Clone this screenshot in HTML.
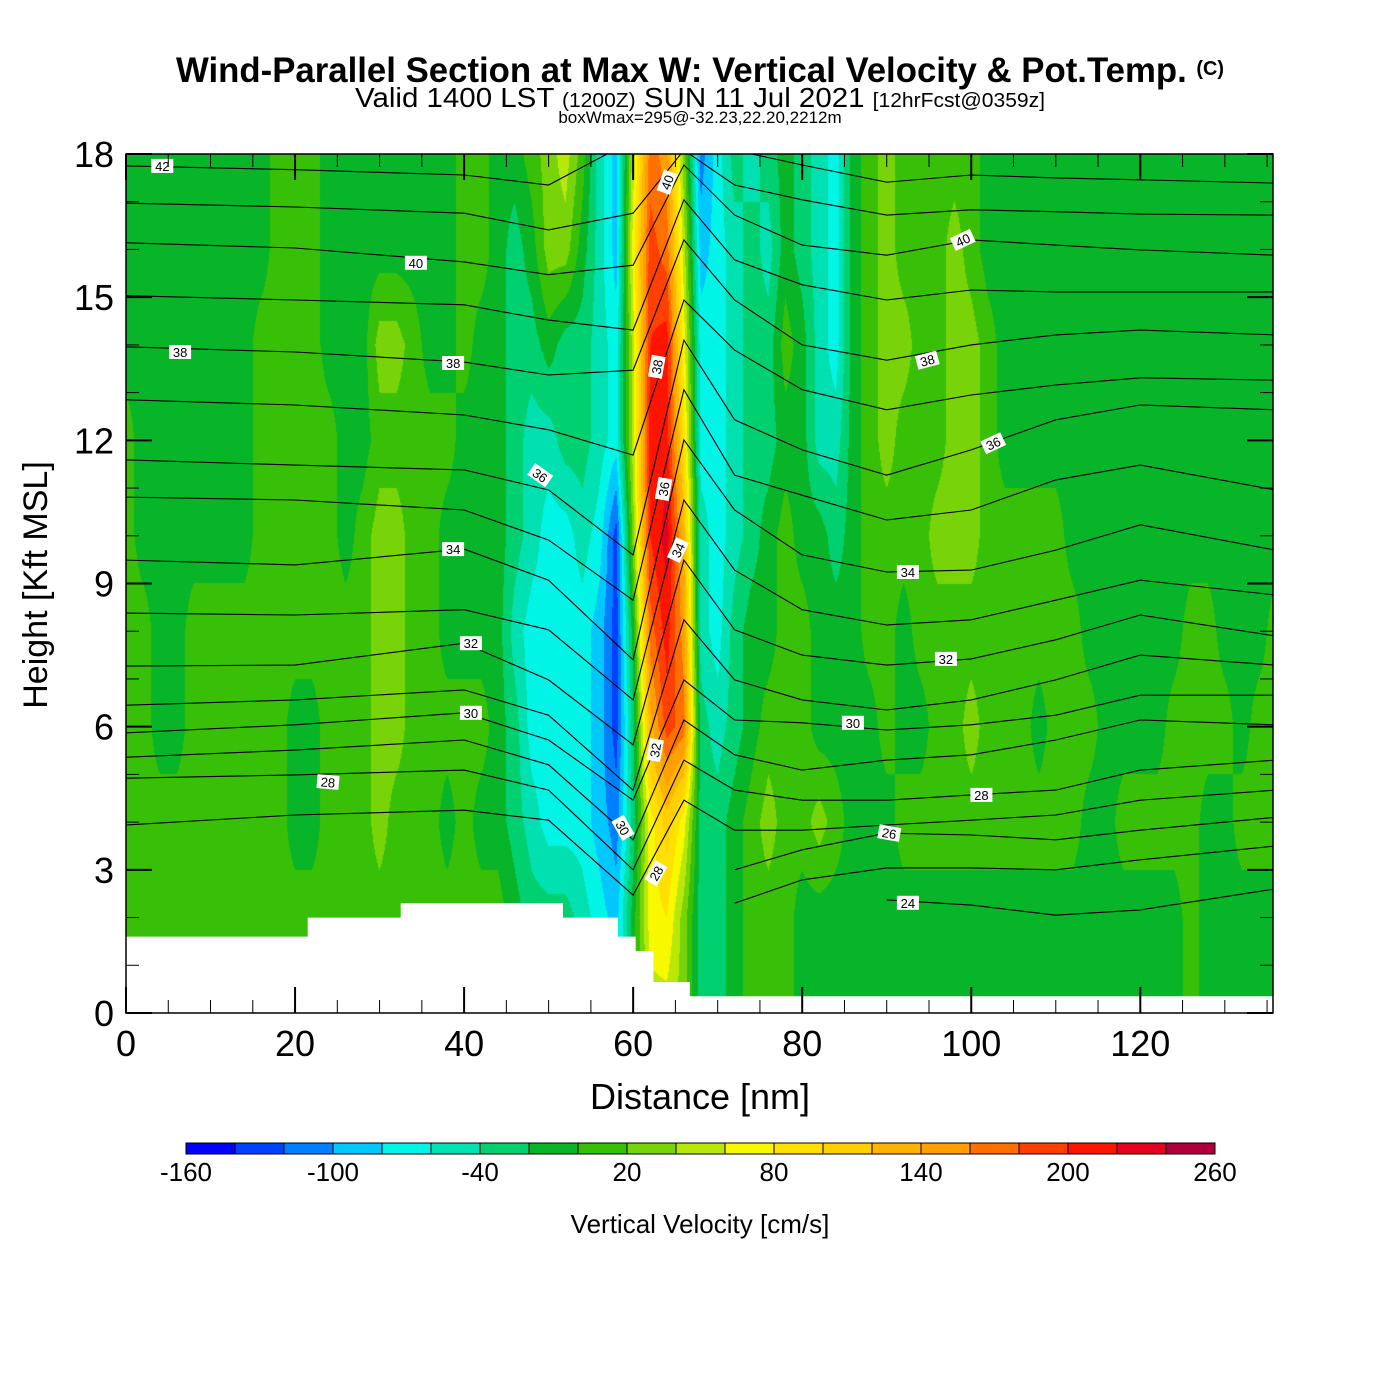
<!DOCTYPE html>
<html><head><meta charset="utf-8">
<style>
body{margin:0;background:#fff;}
#wrap{position:relative;width:1400px;height:1400px;background:#fff;overflow:hidden;font-family:"Liberation Sans",sans-serif;}
canvas{position:absolute;left:126px;top:154px;}
svg{position:absolute;left:0;top:0;}
</style></head>
<body>
<div id="wrap">
<canvas id="field" width="1147" height="859"></canvas>
<svg id="svg" width="1400" height="1400">
<text x="700" y="82" text-anchor="middle" font-size="35" font-weight="bold" textLength="1048" lengthAdjust="spacingAndGlyphs">Wind-Parallel Section at Max W: Vertical Velocity &amp; Pot.Temp. <tspan font-size="20" dy="-7">(C)</tspan></text>
<text x="700" y="107" text-anchor="middle" font-size="28" textLength="690" lengthAdjust="spacingAndGlyphs">Valid 1400 LST <tspan font-size="20">(1200Z)</tspan> SUN 11 Jul 2021 <tspan font-size="20">[12hrFcst@0359z]</tspan></text>
<text x="700" y="123" text-anchor="middle" font-size="17">boxWmax=295@-32.23,22.20,2212m</text>
<text x="700" y="1109" text-anchor="middle" font-size="36">Distance [nm]</text>
<text transform="translate(47,585) rotate(-90)" text-anchor="middle" font-size="34">Height [Kft MSL]</text>
<text x="700" y="1233" text-anchor="middle" font-size="26">Vertical Velocity [cm/s]</text>
<g id="lines"></g><g id="terrain"></g><g id="clabels"></g><g id="axes"></g><g id="cbar"></g>
</svg>
</div>
<script>
const xMin=0,xMax=135.7,yMin=0,yMax=18;
const PX0=126,PX1=1273,PY0=1013,PY1=154;
function sx(v){return PX0+(v-xMin)/(xMax-xMin)*(PX1-PX0);}
function sy(v){return PY0-(v-yMin)/(yMax-yMin)*(PY0-PY1);}

const levelBounds=[-160,-140,-120,-100,-80,-60,-40,-20,0,20,40,60,80,100,120,140,160,180,200,220,240,260];
const levelColors=["#0000ff","#0040ff","#0080ff","#00c8ff","#00f5e6","#00e0b0","#00d070","#08b428","#38c008","#78d408","#b8e808","#f8f800","#ffe000","#ffd000","#ffb400","#ffa000","#ff7000","#ff4000","#ff1400","#e60020","#b0003c"];
const cbarLabels=[-160,-100,-40,20,80,140,200,260];

const gridX=[0,2,4,6,8,10,12,14,16,18,20,22,24,26,28,30,32,34,36,38,40,42,44,46,48,50,52,54,56,58,60,62,64,66,68,70,72,74,76,78,80,82,84,86,88,90,92,94,96,98,100,102,104,106,108,110,112,114,116,118,120,122,124,126,128,130,132,134,136];
const gridH=[0,2,4,6,8,10,12,14,16,18];
const w0=[10,10,10,10,10,10,10,10,10,10,10,10,10,10,10,10,10,10,10,10,10,10,10,-10,-30,-30,-30,-50,-70,-90,-10,50,50,30,-30,-30,-10,10,10,10,-10,-10,-10,-10,-10,-10,-10,-10,-10,-10,-10,-10,-10,-10,-10,-10,-10,-10,-10,-10,-10,-10,-10,10,-10,-10,-10,-10,-10];
const w2=[10,10,10,10,10,10,10,10,10,10,10,10,10,10,10,10,10,10,10,10,10,10,10,-10,-30,-30,-30,-50,-70,-90,-10,70,80,30,-30,-30,-10,10,10,10,-10,-10,-10,-10,-10,-10,-10,-10,-10,-10,-10,-10,-10,-10,-10,-10,-10,-10,-10,-10,-10,-10,-10,10,-10,-10,-10,-10,-10];
const w4=[10,10,10,10,10,10,10,10,10,10,-10,-10,10,10,10,30,10,10,10,-10,10,-10,-10,-30,-50,-70,-70,-70,-90,-110,-30,70,110,70,-30,-30,-10,10,30,10,10,30,10,-10,-10,-10,10,10,10,10,10,10,10,10,10,10,10,-10,-10,10,10,10,10,10,-10,-10,10,10,10];
const w6=[10,10,-10,-10,10,10,10,10,10,10,-10,-10,10,10,10,30,30,10,10,10,10,10,-10,-30,-70,-70,-70,-70,-90,-130,-30,130,190,170,-30,-50,-30,-10,10,10,10,-10,-10,-10,-10,10,-10,-10,10,10,30,10,10,10,-10,10,10,10,-10,-10,-10,-10,10,10,10,10,-10,10,10];
const w8=[10,10,-10,-10,10,10,10,10,10,10,10,10,10,10,10,30,30,10,10,-10,-10,-10,-10,-50,-70,-70,-70,-70,-90,-130,-10,170,210,150,-50,-70,-30,-10,-10,10,10,-10,-10,-10,10,10,-10,10,10,10,10,10,10,10,10,10,10,-10,-10,-10,-10,-10,-10,10,10,-10,-10,-10,10];
const w10=[10,-10,-10,-10,-10,-10,-10,-10,10,10,10,10,10,-10,10,30,30,10,10,-10,-10,-10,-10,-30,-50,-70,-70,-50,-70,-130,30,200,230,130,-50,-70,-50,-30,-10,10,-10,-10,-30,-10,10,10,10,10,30,30,30,10,10,10,10,10,-10,-10,-10,-10,-10,-10,-10,-10,-10,-10,-10,-10,-10];
const w12=[10,-10,-10,-10,-10,-10,-10,-10,10,10,10,10,10,-10,-10,10,10,10,10,10,-10,-10,-10,-30,-50,-50,-30,-30,-50,-70,50,210,210,90,-70,-70,-50,-30,-30,-10,-10,-50,-50,-10,10,30,10,10,10,30,30,10,-10,-10,-10,-10,-10,-10,-10,-10,-10,-10,-10,-10,-10,-10,-10,-10,-10];
const w14=[-10,-10,-10,-10,-10,-10,-10,-10,10,10,10,10,-10,-10,-10,30,30,10,-10,-10,10,-10,-10,-30,-30,-10,-30,-30,-50,-70,50,200,210,70,-70,-70,-50,-30,-30,10,-10,-50,-70,-10,10,30,30,10,10,30,30,10,-10,-10,-10,-10,-10,-10,-10,-10,-10,-10,-10,-10,-10,-10,-10,-10,-10];
const w16=[-10,-10,-10,-10,-10,-10,-10,-10,-10,10,10,10,-10,-10,-10,-10,-10,-10,-10,-10,10,10,-10,-30,-10,30,30,-10,-50,-90,70,190,170,50,-90,-70,-50,-30,-50,-10,-30,-50,-70,-10,10,30,10,10,10,30,10,-10,-10,-10,-10,-10,-10,-10,-10,-10,-10,-10,-10,-10,-10,-10,-10,-10,-10];
const w18=[-10,-10,-10,-10,-10,-10,-10,-10,-10,10,10,10,-10,-10,-10,-10,-10,-10,-10,-10,10,10,-10,-10,10,30,50,10,-50,-90,50,170,150,30,-110,-70,-30,-50,-30,-10,-30,-50,-70,-10,10,30,10,10,10,10,10,-10,-10,-10,-10,-10,-10,-10,-10,-10,-10,-10,-10,-10,-10,-10,-10,-10,-10];
const wRows=[w0,w2,w4,w6,w8,w10,w12,w14,w16,w18];

const terrainX=[0,21.5,32.5,51.7,58.2,60.3,62.4,66.7,135.7];
const terrainH=[1.6,2.0,2.3,2.0,1.6,1.3,0.65,0.35];

const thetaX=[0,20,40,50,60,66,72,80,90,100,110,120,136];
const thetaLevels=[42,41,40,39,38,37,36,35,34,33,32,31,30,29,28,27,26,25,24];
const th42=[17.75,17.67,17.56,17.35,18.29,18.5,18.08,17.77,17.41,17.56,17.5,17.46,17.39];
const th41=[16.97,16.89,16.76,16.41,16.76,18.08,17.35,17.04,16.72,16.83,16.79,16.74,16.72];
const th40=[16.14,16.03,15.74,15.47,15.67,17.77,16.72,16.09,15.88,16.2,16.09,15.99,15.88];
const th39=[15.03,14.94,14.84,14.52,14.31,17.04,15.78,15.26,14.94,15.15,15.11,15.11,15.11];
const th38=[13.96,13.85,13.64,13.37,13.47,16.2,14.94,14.0,13.68,14.0,14.21,14.31,14.21];
const th37=[12.85,12.74,12.53,12.22,11.69,14.94,13.89,13.06,12.64,12.95,13.16,13.31,13.26];
const th36=[11.59,11.48,11.38,10.96,9.6,14.1,12.43,11.8,11.27,11.8,12.43,12.74,12.64];
const th35=[10.81,10.75,10.54,9.91,8.65,13.06,11.27,10.85,10.33,10.54,11.17,11.48,10.96];
const th34=[9.49,9.39,9.72,9.07,7.4,12.01,10.54,9.6,9.24,9.28,9.7,10.23,9.7];
const th33=[8.38,8.34,8.45,8.03,6.56,10.75,9.28,8.45,8.13,8.24,8.65,9.07,8.76];
const th32=[7.27,7.29,7.75,6.98,5.62,9.49,8.03,7.5,7.29,7.42,7.82,8.34,7.9];
const th31=[6.45,6.56,6.77,6.24,4.67,8.24,6.98,6.56,6.35,6.56,6.98,7.5,7.29];
const th30=[5.87,6.04,6.29,5.72,4.46,6.98,6.14,6.08,5.93,6.04,6.24,6.66,6.66];
const th29=[5.36,5.51,5.72,5.2,3.63,6.14,5.41,5.09,5.3,5.41,5.72,6.14,6.04];
const th28=[4.92,4.99,5.09,4.67,3.0,5.3,4.67,4.46,4.46,4.57,4.67,5.09,5.3];
const th27=[3.94,4.15,4.25,4.04,2.47,4.46,3.83,3.83,3.94,4.04,4.15,4.46,4.67];
const th26=[null,null,null,null,null,null,3.0,3.42,3.77,3.73,3.63,3.83,4.1];
const th25=[null,null,null,null,null,null,2.3,2.79,3.04,3.04,3.0,3.21,3.5];
const th24=[null,null,null,null,null,null,null,null,2.37,2.26,2.05,2.16,2.6];
const thetaRows=[th42,th41,th40,th39,th38,th37,th36,th35,th34,th33,th32,th31,th30,th29,th28,th27,th26,th25,th24];

const labelText=["42","40","38","38","36","38","40","36","34","34","32","30","28","32","30","28","40","38","36","34","32","30","28","26","24"];
const labelX=[4.3,34.3,6.4,38.7,49,62.8,64,63.6,65.3,38.7,40.8,40.8,23.9,62.6,58.8,62.7,99,94.8,102.6,92.5,97,86,101.2,90.3,92.5];
const labelH=[17.75,15.72,13.85,13.62,11.27,13.54,17.41,10.98,9.7,9.72,7.75,6.29,4.84,5.51,3.88,2.93,16.2,13.68,11.94,9.24,7.42,6.08,4.57,3.77,2.31];
const labelAng=[0,0,0,0,35,-80,-70,-80,-65,0,0,0,5,-80,60,-60,-25,-15,-25,0,0,0,0,10,0];

const NS="http://www.w3.org/2000/svg";
function mk(tag,attrs,parent){const e=document.createElementNS(NS,tag);for(const k in attrs)e.setAttribute(k,attrs[k]);parent.appendChild(e);return e;}

(function(){
  const cv=document.getElementById('field');const ctx=cv.getContext('2d');
  const W=cv.width,H=cv.height;const img=ctx.createImageData(W,H);
  const rgb=levelColors.map(c=>[parseInt(c.substr(1,2),16),parseInt(c.substr(3,2),16),parseInt(c.substr(5,2),16)]);
  const nx=gridX.length,nh=gridH.length;
  for(let py=0;py<H;py++){
    const h=yMax-(py+0.5)/H*(yMax-yMin);
    let j=Math.min(nh-2,Math.max(0,Math.floor(h/2)));let fy=(h-gridH[j])/(gridH[j+1]-gridH[j]);
    for(let px=0;px<W;px++){
      const x=xMin+(px+0.5)/W*(xMax-xMin);
      let i=Math.min(nx-2,Math.max(0,Math.floor(x/2)));let fx=(x-gridX[i])/(gridX[i+1]-gridX[i]);
      const v=(wRows[j][i]*(1-fx)+wRows[j][i+1]*fx)*(1-fy)+(wRows[j+1][i]*(1-fx)+wRows[j+1][i+1]*fx)*fy;
      let k=Math.floor((v-levelBounds[0])/20);k=Math.max(0,Math.min(20,k));
      const o=(py*W+px)*4;img.data[o]=rgb[k][0];img.data[o+1]=rgb[k][1];img.data[o+2]=rgb[k][2];img.data[o+3]=255;
    }
  }
  ctx.putImageData(img,0,0);
})();

const svg=document.getElementById('svg');
const defs=mk('defs',{},svg);
const cp=mk('clipPath',{id:'plotclip'},defs);
mk('rect',{x:PX0,y:PY1,width:PX1-PX0,height:PY0-PY1},cp);

const gL=document.getElementById('lines');gL.setAttribute('clip-path','url(#plotclip)');
thetaRows.forEach((row,li)=>{
  let d='',pen=false;
  row.forEach((h,i)=>{if(h===null){pen=false;return;}d+=(pen?'L':'M')+sx(thetaX[i]).toFixed(1)+' '+sy(h).toFixed(1);pen=true;});
  const p=mk('path',{d:d,fill:'none',stroke:'#000','stroke-width':1.1},gL);
  
  
});

(function(){
  const g=document.getElementById('terrain');
  let d='M'+sx(terrainX[0])+' '+sy(0);
  for(let i=0;i<terrainH.length;i++){d+='L'+sx(terrainX[i]).toFixed(1)+' '+sy(terrainH[i]).toFixed(1)+'L'+sx(terrainX[i+1]).toFixed(1)+' '+sy(terrainH[i]).toFixed(1);}
  d+='L'+sx(terrainX[terrainX.length-1])+' '+sy(0)+'Z';
  const p=mk('path',{d:d,fill:'#fff',stroke:'none'},g);
  
  
})();

(function(){
  const g=document.getElementById('clabels');
  labelText.forEach((t,i)=>{
    const gg=mk('g',{transform:'translate('+sx(labelX[i]).toFixed(1)+','+sy(labelH[i]).toFixed(1)+') rotate('+labelAng[i]+')'},g);
    
    
    mk('rect',{x:-11,y:-7,width:22,height:14,fill:'#fff'},gg);
    const tx=mk('text',{x:0,y:5,'text-anchor':'middle','font-size':13},gg);tx.textContent=t;
  });
})();

(function(){
  const g=document.getElementById('axes');
  const fr=mk('rect',{x:PX0,y:PY1,width:PX1-PX0,height:PY0-PY1,fill:'none',stroke:'#000','stroke-width':1.5},g);
  
  for(let v=0;v<=135;v+=5){
    const major=v%20===0;const L=major?26:13;
    mk('line',{x1:sx(v),x2:sx(v),y1:PY0,y2:PY0-L,stroke:'#000','stroke-width':major?2:1},g);
    mk('line',{x1:sx(v),x2:sx(v),y1:PY1,y2:PY1+L,stroke:'#000','stroke-width':major?2:1},g);
    if(major){const t=mk('text',{x:sx(v),y:1056,'text-anchor':'middle','font-size':36},g);t.textContent=v;
      }
  }
  for(let v=0;v<=18;v+=1){
    const major=v%3===0;const L=major?26:13;
    mk('line',{x1:PX0,x2:PX0+L,y1:sy(v),y2:sy(v),stroke:'#000','stroke-width':major?2:1},g);
    mk('line',{x1:PX1,x2:PX1-L,y1:sy(v),y2:sy(v),stroke:'#000','stroke-width':major?2:1},g);
    if(major){const t=mk('text',{x:114,y:sy(v)+13,'text-anchor':'end','font-size':36},g);t.textContent=v;
      }
  }
})();

(function(){
  const g=document.getElementById('cbar');
  
  const x0=186,x1=1215,y0=1143,hgt=11;const cw=(x1-x0)/levelColors.length;
  levelColors.forEach((c,i)=>{
    const r=mk('rect',{x:x0+i*cw,y:y0,width:cw,height:hgt,fill:c,stroke:'#000','stroke-width':1},g);
    
  });
  cbarLabels.forEach(v=>{
    const x=x0+(v-levelBounds[0])/(levelBounds[levelBounds.length-1]-levelBounds[0])*(x1-x0);
    const t=mk('text',{x:x,y:1181,'text-anchor':'middle','font-size':26},g);t.textContent=v;
    
  });
})();
</script>
</body></html>
